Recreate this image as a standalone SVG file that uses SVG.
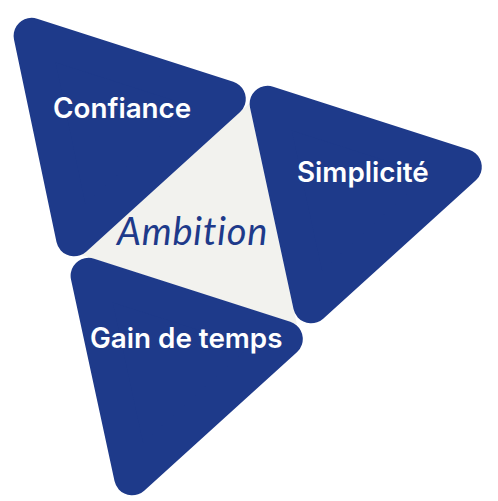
<svg xmlns="http://www.w3.org/2000/svg" width="498" height="501" viewBox="0 0 498 501">
  <style>
    .tri { fill: #1e3a8a; stroke: #1e3a8a; stroke-width: 36; stroke-linejoin: round; }
    .core { fill: #f2f2ee; }
    .lbl { font-family: Inter, "Liberation Sans", sans-serif; font-weight: 600; fill: #ffffff; font-size: 27.8px; }
    .amb { font-family: Lato, "Open Sans", sans-serif; font-style: italic; font-weight: 400; fill: #1e3a8a; font-size: 38px; letter-spacing: 0.8px; }
  </style>
  <rect width="498" height="501" fill="#ffffff"/>
  <g id="node-ambition-bg">
    <polygon class="core" points="249.3,103.5 82.2,255.2 296.9,324.2"/>
  </g>
  <g id="node-confiance">
    <polygon class="tri" points="227.8,98.9 74.1,238.3 31.6,35.8"/>
    <text class="lbl" x="53" y="118">Confiance</text>
  </g>
  <g id="node-simplicite">
    <polygon class="tri" points="463.8,166.9 311.1,305.3 267.6,103.8"/>
    <text class="lbl" x="297" y="182">Simplicité</text>
  </g>
  <g id="node-gain">
    <polygon class="tri" points="284.8,338.9 132.1,477.3 88.6,275.8"/>
    <text class="lbl" x="90" y="348">Gain de temps</text>
  </g>
  <g id="node-ambition">
    <text class="amb" x="117" y="245">Ambition</text>
  </g>
  <g id="connectors"/>
</svg>
